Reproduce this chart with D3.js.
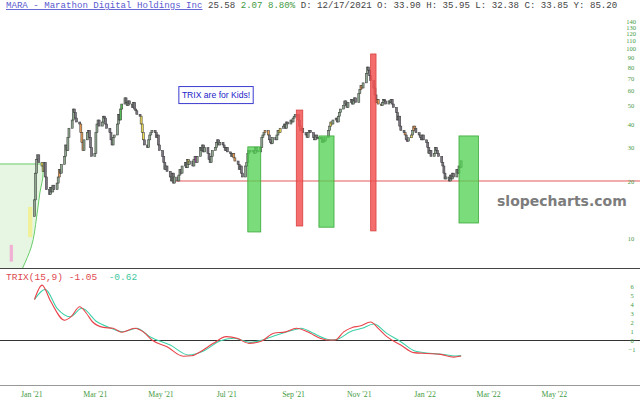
<!DOCTYPE html>
<html><head><meta charset="utf-8">
<script src="https://cdn.jsdelivr.net/npm/d3@7"></script>
<style>body{margin:0;background:#fff}svg{display:block}</style>
</head><body>
<svg id="c" width="640" height="410"></svg>
<script>
// ---------------- DATA ----------------
const startDate = "2021-01-04";
const firstOpen = 13.0;
// daily closes (weekdays, Jan 4 2021 -> Feb 4 2022)
const closes = [
  15.9, 22, 26, 27.5, 25,
  24, 22.5, 25, 21, 18,
  17, 18.5, 17.5, 19, 18,
  19.5, 21, 23, 22, 24.5,
  27, 31, 29, 34, 38,
  42, 48, 46, 43, 41,
  40, 36, 32, 29, 33,
  36, 37, 34, 30, 27,
  28, 36, 40, 42, 39,
  41, 44, 43, 40, 38,
  36, 33, 31, 34, 35,
  40, 45, 42, 48, 51,
  55, 52, 50, 53, 51,
  49, 52, 48, 47, 45,
  44, 40, 36, 33, 31,
  30, 33, 35, 36, 37,
  36, 34, 35, 31, 29,
  27, 25, 23, 24, 22.5,
  21, 20, 22, 19.5, 21,
  20, 21.5, 23, 22, 24,
  25, 23.5, 26, 24.5, 25.5,
  24, 26, 27, 25, 27,
  30, 29, 31, 28.5, 30,
  28, 26, 25, 27, 29,
  30, 32, 33, 31, 32,
  31, 30, 29, 30, 28.5,
  28, 27, 28, 26.5, 25.5,
  24.5, 23, 24, 22, 21,
  24, 25, 28, 29, 28.5,
  29, 28, 30, 29, 28.5,
  30, 34, 35, 36, 37,
  35, 33, 32, 31.5, 34,
  33, 35, 37, 36, 38,
  39, 40, 38, 41, 40,
  42, 41, 43, 44, 45,
  42, 39, 37, 38, 36,
  35, 34, 36, 37, 36,
  34, 33, 35, 34, 33.5,
  34, 32, 33, 32.5, 34,
  37, 39, 41, 40, 42,
  43, 41, 44, 46, 48,
  50, 53, 51, 49, 52,
  54, 51, 53, 55, 52,
  58, 61, 64, 62, 66,
  74, 80, 77, 72, 68,
  62, 57, 52, 54, 51,
  50, 52, 54, 53, 51,
  53, 52, 54, 51, 49,
  46, 42, 44, 39, 37,
  36, 35, 33, 32.5, 33.85,
  35, 37, 39, 38, 36,
  35, 34, 33, 35, 33,
  32, 30, 28, 29, 27,
  28, 30, 29, 28, 27,
  25, 24, 22, 20.5, 21,
  20, 21.5, 20.5, 22, 21,
  23, 22, 24, 23.51, 25.58
];
const highlightDates = ["2021-01-11","2021-01-12","2021-01-27","2021-02-16","2021-02-17","2021-02-18",
  "2021-03-25","2021-03-26","2021-04-13","2021-04-14","2021-04-15","2021-05-27","2021-06-03",
  "2021-07-08","2021-07-09","2021-08-06","2021-08-09","2021-08-19","2021-08-20","2021-09-08","2021-09-09",
  "2021-09-29","2021-10-06","2021-10-07","2021-11-03","2021-11-04","2021-11-18","2021-11-19","2021-11-22",
  "2021-12-14","2021-12-16","2021-12-20","2021-12-22","2021-12-23"];
const highlightKinds = ["y","y","o","o","o","o","g","g","y","y","y","y","m",
  "o","o","o","o","y","y","o","o","g","y","y","o","o","o","o","o","o","m","y","o","o"];

const trixDates = ["2021-01-04","2021-01-11","2021-01-19","2021-02-01","2021-02-07","2021-02-15","2021-02-21",
  "2021-02-27","2021-03-09","2021-03-18","2021-03-26","2021-04-07","2021-04-15","2021-04-23","2021-05-07",
  "2021-05-22","2021-05-30","2021-06-07","2021-06-19","2021-07-01","2021-07-11","2021-07-22","2021-08-03",
  "2021-08-14","2021-08-25","2021-09-04","2021-09-17","2021-09-26","2021-10-02","2021-10-10","2021-10-18",
  "2021-10-26","2021-11-02","2021-11-12","2021-11-19","2021-11-27","2021-12-10","2021-12-22","2022-01-03",
  "2022-01-16","2022-01-28","2022-02-04"];
const trixValues = [4.5,6.1,4.3,2.2,2.6,3.7,3.0,2.0,1.4,1.3,0.86,1.3,0.9,0,-0.75,-1.8,-1.75,-1.3,-0.37,0.37,
  0.2,-0.37,-0.1,0.75,0.9,1.3,0.75,0.2,0,0,0.9,1.4,1.55,2.0,1.3,0.37,-0.55,-1.4,-1.5,-1.6,-1.9,-1.78];
const signalDates = ["2021-01-04","2021-01-14","2021-01-25","2021-02-06","2021-02-17","2021-03-03","2021-03-15",
  "2021-03-27","2021-04-09","2021-04-21","2021-05-10","2021-05-27","2021-06-10","2021-06-25","2021-07-08",
  "2021-07-23","2021-08-04","2021-08-17","2021-09-04","2021-09-08","2021-09-20","2021-09-23","2021-10-07",
  "2021-10-13","2021-10-24","2021-11-04","2021-11-15","2021-11-27","2021-12-10","2021-12-23","2022-01-06",
  "2022-01-17","2022-01-30","2022-02-04"];
const signalValues = [4.5,5.63,3.52,2.59,3.52,2.03,1.37,0.92,1.3,0.37,-0.56,-1.67,-1.22,-0.11,0.19,-0.26,0,
  0.56,1.19,1.3,0.74,0.56,0,0.11,0.92,1.3,1.78,0.74,-0.19,-1.22,-1.48,-1.59,-1.78,-1.74];

const priceTicks = [10,20,30,40,50,60,70,80,90,100,110,120,130,140];
const trixTicks = [-1,0,1,2,3,4,5,6];
const monthTicks = ["2021-01-01","2021-03-01","2021-05-01","2021-07-01","2021-09-01","2021-11-01","2022-01-01","2022-03-01","2022-05-01"];
const monthLabels = ["Jan '21","Mar '21","May '21","Jul '21","Sep '21","Nov '21","Jan '22","Mar '22","May '22"];

// annotations (date / price space)
const greenZoneStart = ["2021-07-21","2021-09-25","2022-02-02"];
const greenZoneEnd   = ["2021-08-02","2021-10-09","2022-02-20"];
const greenZoneLow   = [10.76, 11.4, 12.0];
const greenZoneHigh  = [30.3, 34.6, 34.6];
const redZoneStart = ["2021-09-04","2021-11-12"];
const redZoneEnd   = ["2021-09-10","2021-11-17"];
const redZoneLow   = [11.57, 10.9];
const redZoneHigh  = [47.4, 93.8];
const supportLevel = 20, supportStart = "2021-05-13";
const arcDates  = ["2020-12-03","2021-01-12","2021-01-12","2021-01-09","2021-01-06","2021-01-01","2020-12-24"];
const arcPrices = [24.6, 24.6, 22.0, 17.3, 12.9, 8.96, 6.94];
const noteText = "TRIX are for Kids!";
const noteStart = "2021-05-18", noteEnd = "2021-07-26", noteLow = 51.3, noteHigh = 63.1;

// ---------------- CHART ----------------
const P = d3.utcParse("%Y-%m-%d");
const svg = d3.select("#c");
const W = 640;
const x = d3.scaleUtc().domain([P("2020-12-03"), P("2022-07-20")]).range([0, W]);
const y = d3.scaleLog().domain([6.94, 141.8]).range([268, 20]);
const yt = d3.scaleLinear().domain([-5, 8]).range([385, 268]);

// trading days
const days = [];
let dd = P(startDate);
while (days.length < closes.length) {
  const wd = dd.getUTCDay();
  if (wd !== 0 && wd !== 6) days.push(dd);
  dd = d3.utcDay.offset(dd, 1);
}
const hiMap = new Map(highlightDates.map((d, i) => [d, highlightKinds[i]]));
const hiColor = {y:"#eedd55", o:"#eea055", g:"#55bb55", m:"#dd44cc"};
const fmt = d3.utcFormat("%Y-%m-%d");

// left shaded arc region
const arcPts = arcDates.map((d, i) => [x(P(d)), y(arcPrices[i])]);
const areaPts = arcPts.concat([[x(P(arcDates[0])), y(arcPrices[arcPrices.length-1])]]);
svg.append("path").attr("d", d3.line()(areaPts) + "Z").attr("fill", "#e6f6e2");
svg.append("path").attr("d", d3.line().curve(d3.curveMonotoneY)(arcPts.slice(1)))
  .attr("fill", "none").attr("stroke", "#66cc66").attr("stroke-width", 1);
svg.append("path").attr("d", d3.line()(arcPts.slice(0, 2)))
  .attr("fill", "none").attr("stroke", "#66cc66").attr("stroke-width", 1);

// small early highlights
svg.append("rect").attr("x", x(P("2020-12-29"))).attr("width", x(P("2021-01-02")) - x(P("2020-12-29")))
  .attr("y", y(14.6)).attr("height", y(10.1) - y(14.6)).attr("fill", "#f4f08a").attr("opacity", 0.8);
svg.append("rect").attr("x", x(P("2020-12-12"))).attr("width", x(P("2020-12-15")) - x(P("2020-12-12")))
  .attr("y", y(9.2)).attr("height", y(7.5) - y(9.2)).attr("fill", "#f0b0d4");

// support line
svg.append("line").attr("x1", x(P(supportStart))).attr("x2", W)
  .attr("y1", y(supportLevel)).attr("y2", y(supportLevel)).attr("stroke", "#e45a5a").attr("stroke-width", 1);

// candles
const cw = 2.0;
const cg = svg.append("g");
closes.forEach((c, i) => {
  const o = i ? closes[i-1] : firstOpen;
  const top = y(Math.max(o, c)), bot = y(Math.min(o, c));
  const k = hiMap.get(fmt(days[i]));
  cg.append("rect").attr("x", x(days[i]) - cw/2).attr("width", cw)
    .attr("y", top).attr("height", Math.max(1.5, bot - top))
    .attr("fill", k ? hiColor[k] : (c >= o ? "#8fa98f" : "#7d7682"))
    .attr("stroke", "#3a3a3a").attr("stroke-width", 0.55);
});

// green / red zones
greenZoneStart.forEach((s, i) => {
  svg.append("rect").attr("x", x(P(s))).attr("width", x(P(greenZoneEnd[i])) - x(P(s)))
    .attr("y", y(greenZoneHigh[i])).attr("height", y(greenZoneLow[i]) - y(greenZoneHigh[i]))
    .attr("fill", "#55d255").attr("fill-opacity", 0.78).attr("stroke", "#3aa83a").attr("stroke-width", 0.8);
});
redZoneStart.forEach((s, i) => {
  svg.append("rect").attr("x", x(P(s))).attr("width", x(P(redZoneEnd[i])) - x(P(s)))
    .attr("y", y(redZoneHigh[i])).attr("height", y(redZoneLow[i]) - y(redZoneHigh[i]))
    .attr("fill", "#f25555").attr("fill-opacity", 0.85).attr("stroke", "#d84040").attr("stroke-width", 0.8);
});

// note box
const nx0 = x(P(noteStart)), nx1 = x(P(noteEnd)), ny0 = y(noteHigh), ny1 = y(noteLow);
svg.append("rect").attr("x", nx0).attr("y", ny0).attr("width", nx1 - nx0).attr("height", ny1 - ny0)
  .attr("fill", "#fff").attr("stroke", "#3b3bd0").attr("stroke-width", 1);
svg.append("text").attr("x", (nx0 + nx1)/2).attr("y", (ny0 + ny1)/2 + 3)
  .attr("text-anchor", "middle").attr("font-family", "Liberation Sans, Arial, sans-serif")
  .attr("font-size", 8.6).attr("fill", "#2323c8").text(noteText);

// watermark
svg.append("text").attr("x", 497).attr("y", 206).attr("font-family", "DejaVu Sans, sans-serif")
  .attr("font-weight", "bold").attr("font-size", 14).attr("fill", "#7c7c7c").text("slopecharts.com");

// price axis labels
const ya = svg.append("g").attr("transform", "translate(631,0)")
  .call(d3.axisRight(y).tickValues(priceTicks).tickFormat(d3.format("d")).tickSize(0).tickPadding(0));
ya.select(".domain").remove();
ya.selectAll("text").attr("text-anchor", "middle").attr("font-family", "Liberation Serif, serif")
  .attr("font-size", 6.5).attr("fill", "#3f9a3f");

// panel separators
svg.append("line").attr("x1", 0).attr("x2", W).attr("y1", 268.5).attr("y2", 268.5).attr("stroke", "#444").attr("stroke-width", 1.2);
svg.append("line").attr("x1", 0).attr("x2", W).attr("y1", 385.5).attr("y2", 385.5).attr("stroke", "#999").attr("stroke-width", 1.2);
svg.append("line").attr("x1", 0).attr("x2", W).attr("y1", yt(0) + 0.5).attr("y2", yt(0) + 0.5).attr("stroke", "#333").attr("stroke-width", 1);

// TRIX lines
const tl = d3.line().curve(d3.curveMonotoneX);
svg.append("path").attr("d", tl(signalDates.map((d, i) => [x(P(d)), yt(signalValues[i])])))
  .attr("fill", "none").attr("stroke", "#3ed1a8").attr("stroke-width", 1.1);
svg.append("path").attr("d", tl(trixDates.map((d, i) => [x(P(d)), yt(trixValues[i])])))
  .attr("fill", "none").attr("stroke", "#e8434a").attr("stroke-width", 1.1);

const ta = svg.append("g").attr("transform", "translate(632,0)")
  .call(d3.axisRight(yt).tickValues(trixTicks).tickFormat(d3.format("d")).tickSize(0).tickPadding(0));
ta.select(".domain").remove();
ta.selectAll("text").attr("text-anchor", "middle").attr("font-family", "Liberation Serif, serif")
  .attr("font-size", 6.5).attr("fill", "#3f9a3f");

// TRIX legend
const tleg = svg.append("text").attr("x", 6).attr("y", 279.5).attr("font-family", "Liberation Mono, monospace")
  .attr("font-size", 9.5).attr("xml:space", "preserve");
tleg.append("tspan").attr("fill", "#e04a50").text("TRIX(15,9) -1.05  ");
tleg.append("tspan").attr("fill", "#3ec7a0").text("-0.62");

// x axis
const xa = svg.append("g").attr("transform", "translate(0,391)")
  .call(d3.axisBottom(x).tickValues(monthTicks.map(P)).tickFormat((d, i) => monthLabels[i]).tickSize(0).tickPadding(0));
xa.select(".domain").remove();
xa.selectAll("text").attr("font-family", "Liberation Serif, serif").attr("font-size", 7.8).attr("fill", "#3f9a3f");

// header
const hd = svg.append("text").attr("x", 6).attr("y", 8).attr("font-family", "Liberation Mono, monospace")
  .attr("font-size", 9.1).attr("xml:space", "preserve");
hd.append("tspan").attr("fill", "#5a5ad0").attr("text-decoration", "underline").text("MARA - Marathon Digital Holdings Inc");
hd.append("tspan").attr("fill", "#444").text(" 25.58 ");
hd.append("tspan").attr("fill", "#3f9a3f").text("2.07 8.80%");
hd.append("tspan").attr("fill", "#444").text(" D: 12/17/2021 O: 33.90 H: 35.95 L: 32.38 C: 33.85 Y: 85.20");
</script>
</body></html>
